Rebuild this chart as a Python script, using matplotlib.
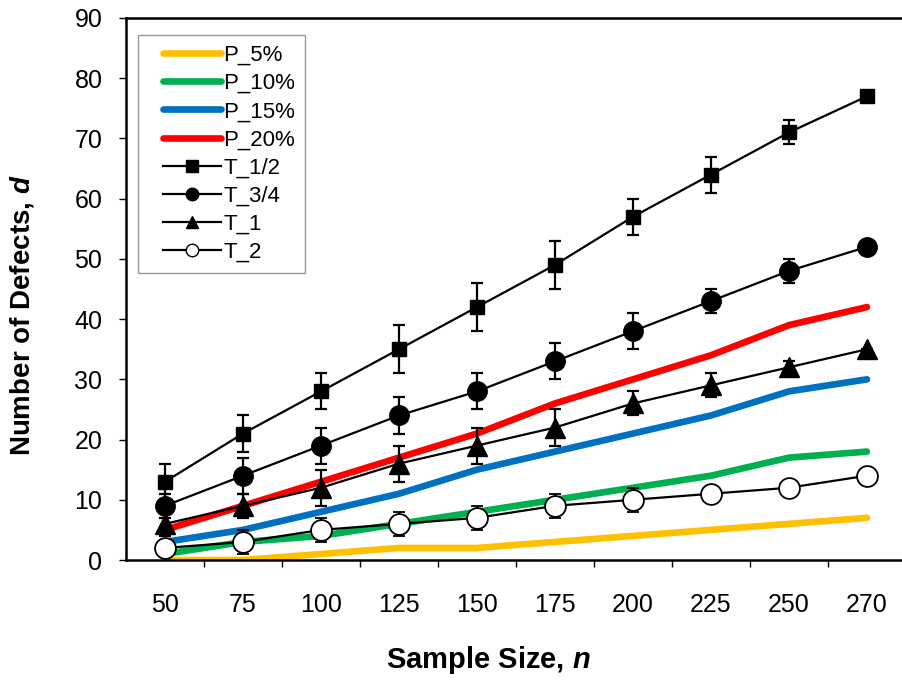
import matplotlib
matplotlib.use("Agg")
import matplotlib.pyplot as plt
from matplotlib.lines import Line2D
from matplotlib.legend_handler import HandlerLine2D
import numpy as np

plt.rcParams['font.family'] = ['Liberation Sans', 'DejaVu Sans']
plt.rcParams['mathtext.fontset'] = 'custom'
plt.rcParams['mathtext.bfit'] = 'Liberation Sans:italic:bold'
plt.rcParams['mathtext.it'] = 'Liberation Sans:italic:bold'

categories = ["50", "75", "100", "125", "150", "175", "200", "225", "250", "270"]

p5 = [0, 0, 1, 2, 2, 3, 4, 5, 6, 7]
p10 = [1, 3, 4, 6, 8, 10, 12, 14, 17, 18]
p15 = [3, 5, 8, 11, 15, 18, 21, 24, 28, 30]
p20 = [5, 9, 13, 17, 21, 26, 30, 34, 39, 42]

t_half = [13, 21, 28, 35, 42, 49, 57, 64, 71, 77]
t_half_err = [3, 3, 3, 4, 4, 4, 3, 3, 2, 0]
t_34 = [9, 14, 19, 24, 28, 33, 38, 43, 48, 52]
t_34_err = [2, 3, 3, 3, 3, 3, 3, 2, 2, 0]
t_1 = [6, 9, 12, 16, 19, 22, 26, 29, 32, 35]
t_1_err = [2, 2, 3, 3, 3, 3, 2, 2, 1, 0]
t_2 = [2, 3, 5, 6, 7, 9, 10, 11, 12, 14]
t_2_err = [1, 2, 2, 2, 2, 2, 2, 1, 1, 0]

fig = plt.figure(figsize=(9.03, 6.8), dpi=100)
ax = fig.add_axes([126/903, 120/680, 780/903, 542/680])
x = np.arange(len(categories))

PCOL = ['#FFC000', '#00B050', '#0070C0', '#FF0000']
ax.plot(x, p5, color=PCOL[0], lw=4.8, solid_capstyle='round', solid_joinstyle='round', zorder=2)
ax.plot(x, p10, color=PCOL[1], lw=4.8, solid_capstyle='round', solid_joinstyle='round', zorder=2)
ax.plot(x, p15, color=PCOL[2], lw=4.8, solid_capstyle='round', solid_joinstyle='round', zorder=2)
ax.plot(x, p20, color=PCOL[3], lw=4.8, solid_capstyle='round', solid_joinstyle='round', zorder=2)

common = dict(color='black', lw=1.6, ecolor='black', elinewidth=1.6, capsize=4, capthick=1.6, zorder=3)
ax.errorbar(x, t_half, yerr=t_half_err, marker='s', ms=9.5, mfc='black', mec='black', **common)
ax.errorbar(x, t_34, yerr=t_34_err, marker='o', ms=14, mfc='black', mec='black', **common)
ax.errorbar(x, t_1, yerr=t_1_err, marker='^', ms=14, mfc='black', mec='black', **common)
ax.errorbar(x, t_2, yerr=t_2_err, marker='o', ms=15, mfc='white', mec='black', mew=1.3, **common)

ax.set_xlim(-0.5, 9.5)
ax.set_ylim(0, 90)
ax.set_yticks(np.arange(0, 91, 10))
ax.set_xticks(x)
ax.set_xticklabels(categories)
ax.set_xticks(np.arange(0.5, 9, 1), minor=True)
ax.tick_params(axis='x', which='major', length=0, labelsize=18, pad=24)
ax.tick_params(axis='x', which='minor', length=5, width=1, direction='out')
ax.tick_params(axis='y', length=5, width=1, labelsize=18, direction='out', pad=12)

for s in ['left', 'bottom', 'top', 'right']:
    ax.spines[s].set_linewidth(1.8)

ax.set_xlabel('Sample Size, $\\mathit{n}$', fontsize=21, fontweight='bold')
ax.set_ylabel('Number of Defects, $\\mathit{d}$', fontsize=20, fontweight='bold')
ax.xaxis.set_label_coords((488 - 126) / 780, (560 - 660) / 542)
ax.xaxis.label.set_va('center')
ax.yaxis.set_label_coords((22 - 126) / 780, (560 - 315) / 542)
ax.yaxis.label.set_va('center')
ax.yaxis.label.set_ha('center')

leg_handles = [
    Line2D([], [], color=PCOL[0], lw=4.8, solid_capstyle='round'),
    Line2D([], [], color=PCOL[1], lw=4.8, solid_capstyle='round'),
    Line2D([], [], color=PCOL[2], lw=4.8, solid_capstyle='round'),
    Line2D([], [], color=PCOL[3], lw=4.8, solid_capstyle='round'),
    Line2D([], [], color='black', lw=1.6, marker='s', ms=8, mfc='black'),
    Line2D([], [], color='black', lw=1.6, marker='o', ms=9, mfc='black'),
    Line2D([], [], color='black', lw=1.6, marker='^', ms=9, mfc='black'),
    Line2D([], [], color='black', lw=1.6, marker='o', ms=9, mfc='white', mec='black'),
]
leg_labels = ['P_5%', 'P_10%', 'P_15%', 'P_20%', 'T_1/2', 'T_3/4', 'T_1', 'T_2']
hmap = {h: HandlerLine2D(xpad=0.68) for h in leg_handles}
leg = ax.legend(leg_handles, leg_labels, loc='upper left', bbox_to_anchor=(138/903, 1 - 35/680),
                bbox_transform=fig.transFigure, handler_map=hmap,
                fontsize=16, frameon=True, fancybox=False, edgecolor='#808080', handlelength=3.28,
                handletextpad=0.1, labelspacing=0.32, borderpad=0.45, borderaxespad=0)
leg.get_frame().set_linewidth(1.0)

fig.savefig('out.png', dpi=100)
